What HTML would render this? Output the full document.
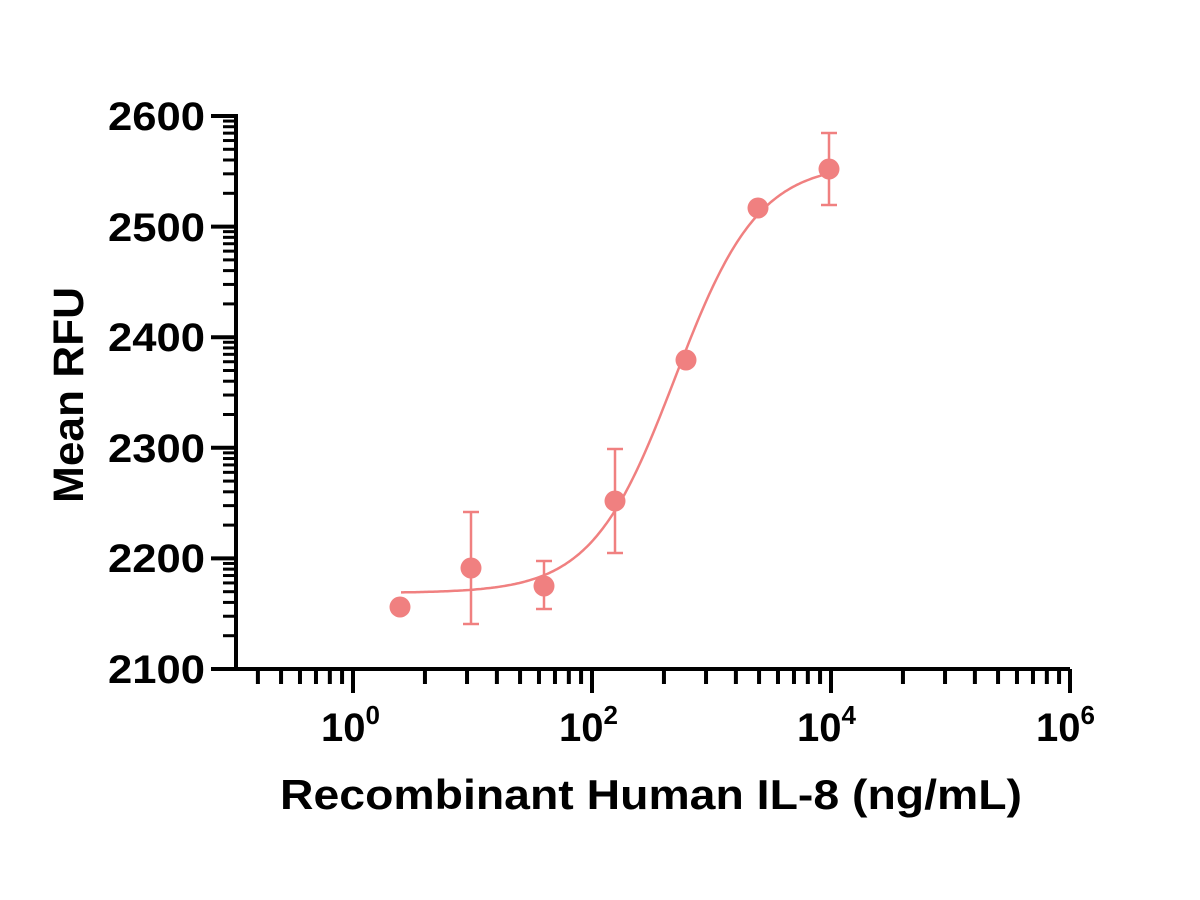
<!DOCTYPE html><html><head><style>body{margin:0;background:#fff}svg{display:block}text{font-family:"Liberation Sans",Arial,sans-serif;font-weight:bold;fill:#000}</style></head><body>
<svg id="s" width="1200" height="900" xmlns="http://www.w3.org/2000/svg">
<g id="g"></g>
<g font-size="40" text-anchor="end">
<text x="205" y="130" textLength="97" lengthAdjust="spacingAndGlyphs">2600</text>
<text x="205" y="241" textLength="97" lengthAdjust="spacingAndGlyphs">2500</text>
<text x="205" y="351" textLength="97" lengthAdjust="spacingAndGlyphs">2400</text>
<text x="205" y="462" textLength="97" lengthAdjust="spacingAndGlyphs">2300</text>
<text x="205" y="572" textLength="97" lengthAdjust="spacingAndGlyphs">2200</text>
<text x="205" y="683" textLength="97" lengthAdjust="spacingAndGlyphs">2100</text>
</g>
<g font-size="40">
<text x="321" y="741">10<tspan dy="-17" font-size="26">0</tspan></text>
<text x="559" y="741">10<tspan dy="-17" font-size="26">2</tspan></text>
<text x="797" y="741">10<tspan dy="-17" font-size="26">4</tspan></text>
<text x="1036" y="741">10<tspan dy="-17" font-size="26">6</tspan></text>
</g>
<text x="280" y="809" font-size="42" textLength="742" lengthAdjust="spacingAndGlyphs">Recombinant Human  IL-8 (ng/mL)</text>
<text transform="translate(83,395) rotate(-90)" font-size="43" text-anchor="middle" textLength="216" lengthAdjust="spacingAndGlyphs">Mean RFU</text>
</svg>
<script>
var g=document.getElementById('g'),h='';
function L(x1,y1,x2,y2,w,c){h+='<line x1="'+x1+'" y1="'+y1+'" x2="'+x2+'" y2="'+y2+'" stroke="'+(c||'#000')+'" stroke-width="'+w+'"/>';}
L(236,114,236,671,4);L(234,669,1070,669,4);
var y0=116,dy=110.6;
for(var i=0;i<=5;i++){var y=y0+i*dy;L(211,y,236,y,4);if(i<5){for(var k=2;k<=9;k++){var yy=y+dy-dy*Math.log10(k);L(223,yy,236,yy,3);}}}
var x0=353,dd=239;
for(var i=0;i<4;i++){var x=x0+i*dd;L(x,669,x,693,4);}
for(var i=-1;i<3;i++){var b=x0+i*dd;for(var k=2;k<=9;k++){var xx=b+dd*Math.log10(k);if(xx>238&&xx<1068)L(xx,669,xx,684,4);}}
var c='#f08080',p='';
for(var x=401;x<=829;x+=2){var y=593-430/(1+Math.exp(-0.024*(x-675)));p+=(p?'L':'M')+x+','+y.toFixed(1);}
h+='<path d="'+p+'" fill="none" stroke="'+c+'" stroke-width="2.5"/>';
[[471,512,624],[544,561,609],[615,449,553],[829,133,205]].forEach(function(e){L(e[0],e[1],e[0],e[2],2.5,c);L(e[0]-8,e[1],e[0]+8,e[1],2.5,c);L(e[0]-8,e[2],e[0]+8,e[2],2.5,c);});
[[400,607],[471,568],[544,586],[615,501],[686,360],[758,208],[829,169]].forEach(function(q){h+='<circle cx="'+q[0]+'" cy="'+q[1]+'" r="10.5" fill="'+c+'"/>';});
g.innerHTML=h;
</script>
</body></html>
